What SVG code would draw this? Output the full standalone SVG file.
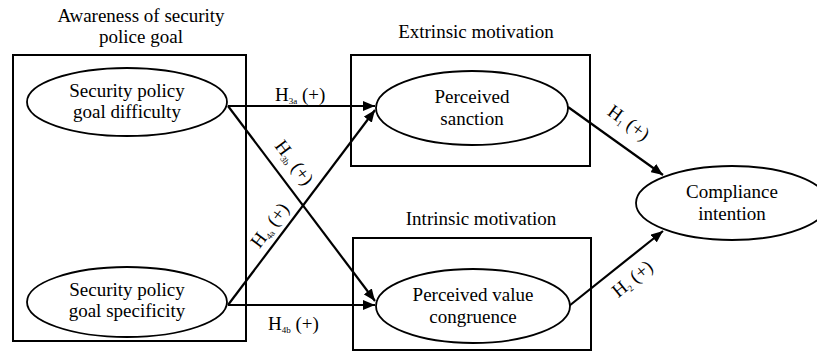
<svg xmlns="http://www.w3.org/2000/svg" width="817" height="351" viewBox="0 0 817 351" font-family="'Liberation Serif', 'DejaVu Serif', serif">
<defs>
<marker id="ah" markerWidth="12" markerHeight="10" viewBox="0 0 12 10" refX="12" refY="5" orient="auto" markerUnits="userSpaceOnUse">
<path d="M0,0 L12,5 L0,10 Z" fill="#000"/>
</marker>
<style>
text{font-size:19px;fill:#000}
.c{text-anchor:middle}
.box{fill:none;stroke:#000;stroke-width:2}
.ell{fill:#fff;stroke:#000;stroke-width:1.8}
.arr{fill:none;stroke:#000;stroke-width:2.2;marker-end:url(#ah)}
.sub{font-size:9px}
</style>
</defs>
<rect width="817" height="351" fill="#fff"/>
<g id="group-awareness">
<text class="c" x="141" y="22">Awareness of security</text>
<text class="c" x="141" y="43">police goal</text>
<rect class="box" x="13" y="55" width="233" height="286"/>
</g>
<g id="group-extrinsic">
<text class="c" x="476" y="38">Extrinsic motivation</text>
<rect class="box" x="351" y="55" width="239" height="111"/>
</g>
<g id="group-intrinsic">
<text class="c" x="481" y="225">Intrinsic motivation</text>
<rect class="box" x="353" y="238" width="238" height="112"/>
</g>
<g id="connectors">
<line class="arr" x1="228" y1="106" x2="375" y2="106"/>
<line class="arr" x1="228" y1="106" x2="375" y2="301"/>
<line class="arr" x1="228" y1="305" x2="375" y2="110"/>
<line class="arr" x1="228" y1="305" x2="375" y2="305"/>
<line class="arr" x1="568" y1="107" x2="663" y2="175"/>
<line class="arr" x1="569" y1="306" x2="663" y2="231"/>
<text x="275" y="101">H<tspan class="sub" dy="3">3a</tspan><tspan dy="-3"> (+)</tspan></text>
<text x="268" y="330">H<tspan class="sub" dy="3">4b</tspan><tspan dy="-3"> (+)</tspan></text>
<text transform="translate(292,160) rotate(53)" x="-22" y="6">H<tspan class="sub" dy="3">3b</tspan><tspan dy="-3"> (+)</tspan></text>
<text transform="translate(268,228) rotate(-53)" x="-22" y="6">H<tspan class="sub" dy="3">4a</tspan><tspan dy="-3"> (+)</tspan></text>
<text transform="translate(626,121) rotate(36)" x="-20" y="6">H<tspan class="sub" dy="3">1</tspan><tspan dy="-3"> (+)</tspan></text>
<text transform="translate(630,281) rotate(-39)" x="-20" y="6">H<tspan class="sub" dy="3">2</tspan><tspan dy="-3"> (+)</tspan></text>
</g>
<g id="node-difficulty">
<ellipse class="ell" cx="127" cy="102" rx="100" ry="34"/>
<text class="c" x="127" y="97">Security policy</text>
<text class="c" x="127" y="118">goal difficulty</text>
</g>
<g id="node-specificity">
<ellipse class="ell" cx="127" cy="302" rx="100" ry="35"/>
<text class="c" x="127" y="296">Security policy</text>
<text class="c" x="127" y="317">goal specificity</text>
</g>
<g id="node-sanction">
<ellipse class="ell" cx="472" cy="108" rx="96" ry="37"/>
<text class="c" x="472" y="103">Perceived</text>
<text class="c" x="472" y="125">sanction</text>
</g>
<g id="node-congruence">
<ellipse class="ell" cx="473" cy="306" rx="97" ry="37"/>
<text class="c" x="473" y="301">Perceived value</text>
<text class="c" x="473" y="323">congruence</text>
</g>
<g id="node-compliance">
<ellipse class="ell" cx="732" cy="203" rx="96" ry="37"/>
<text class="c" x="732" y="198">Compliance</text>
<text class="c" x="732" y="220">intention</text>
</g>
</svg>
